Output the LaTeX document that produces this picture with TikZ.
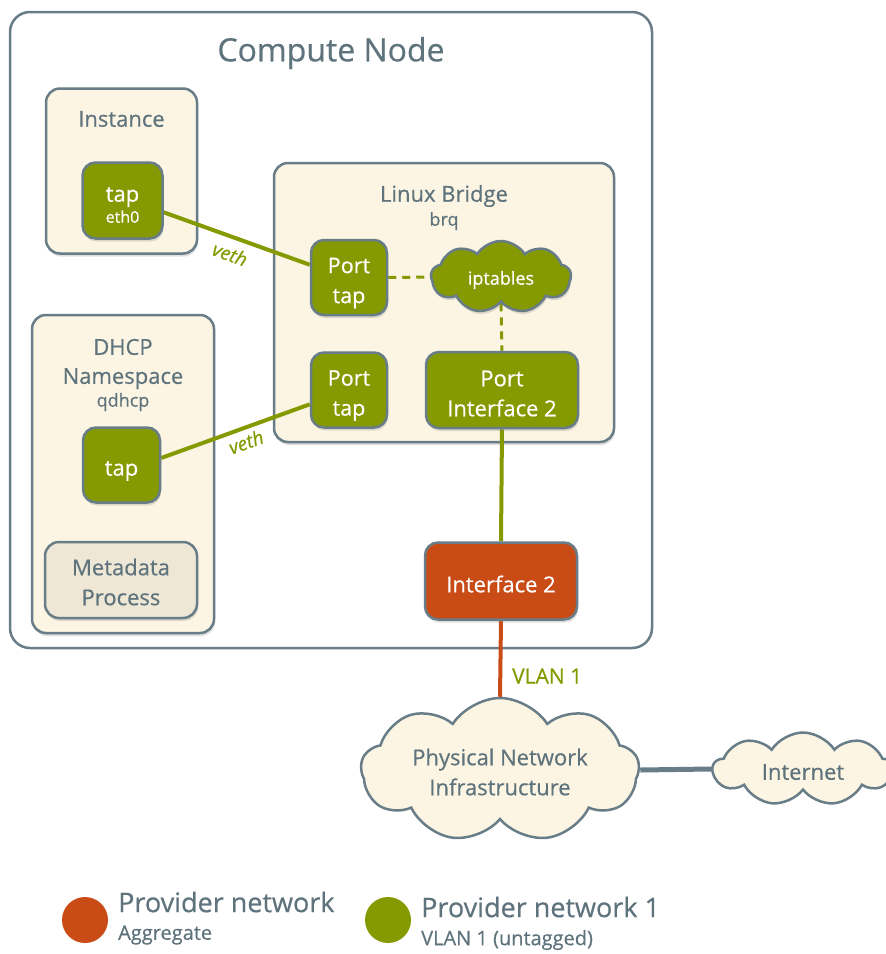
\documentclass[tikz,border=0pt]{standalone}
\usepackage{fontspec}
\setmainfont{Open Sans}[FakeBold=0.5]
\usetikzlibrary{shapes.symbols,shadows}
\definecolor{cgreen}{HTML}{849A00}
\definecolor{corange}{HTML}{C94C17}
\definecolor{cborder}{HTML}{687D87}
\definecolor{ccream}{HTML}{FCF5E3}
\definecolor{cmeta}{HTML}{EEE7D6}
\definecolor{ctext}{HTML}{5F737D}
\newcommand\fsz[2]{\fontsize{#1}{#2}\selectfont}
\pgfdeclarelayer{bg}
\pgfdeclarelayer{edges}
\pgfsetlayers{bg,edges,main}
\begin{document}
\begin{tikzpicture}[x=1pt,y=-1pt,
  shad/.style={drop shadow={opacity=0.25,shadow xshift=1pt,shadow yshift=-3pt}},
  box/.style={draw=cborder,line width=2.5pt,fill=ccream,rounded corners=14pt,inner sep=0pt,shad},
  gbox/.style={draw=cborder,line width=2.5pt,fill=cgreen,rounded corners=13pt,inner sep=0pt,shad},
  lbl/.style={text=ctext,align=center,inner sep=0pt},
  wlbl/.style={text=white,align=center,inner sep=0pt},
  cloudbox/.style={cloud,cloud puffs=9,cloud puff arc=115,cloud ignores aspect,draw=cborder,line width=2.5pt,inner sep=0pt},
  gline/.style={draw=cgreen,line width=4pt},
  dline/.style={draw=cgreen,line width=3pt,dash pattern=on 8pt off 6pt},
  vlbl/.style={text=cgreen,inner sep=0pt,font=\itshape\fsz{19}{21}}
]
\useasboundingbox (0,0) rectangle (886,954);
\begin{pgfonlayer}{bg}
\node[draw=cborder,line width=2.5pt,fill=white,rounded corners=20pt,minimum width=642pt,minimum height=636pt,inner sep=0pt] (compute) at (331,330) {};
\node[box,minimum width=151pt,minimum height=165pt] (inst) at (121.5,171) {};
\node[box,minimum width=340pt,minimum height=279pt] (bridge) at (444,302.5) {};
\node[box,minimum width=182pt,minimum height=318pt] (dhcp) at (123,474) {};
\end{pgfonlayer}

\node[lbl,font=\fsz{32}{36}] (ctitle) at (331,53) {Compute Node};
\node[lbl,font=\fsz{22}{24}] (ititle) at (121.5,119) {Instance};
\node[lbl,font=\fsz{22}{24}] (btitle) at (444,196) {Linux Bridge};
\node[lbl,font=\fsz{18}{20}] (bsub) at (444,221) {brq};
\node[lbl,font=\fsz{22}{29}] (dtitle) at (123,364) {DHCP\\Namespace};
\node[lbl,font=\fsz{18}{20}] (dsub) at (123,402) {qdhcp};

% green boxes
\node[gbox,minimum width=80pt,minimum height=76pt] (tap1) at (122.5,200.5) {};
\node[wlbl,font=\fsz{22}{24}] (tap1t) at (122.5,205) {tap\\[-3pt]{\fsz{16}{18}eth0}};
\node[gbox,minimum width=76pt,minimum height=75pt] (ptap1) at (349,277.5) {};
\node[wlbl,font=\fsz{21.5}{30}] (ptap1t) at (349,283) {Port\\tap};
\node[gbox,minimum width=76pt,minimum height=75pt] (ptap2) at (349,390) {};
\node[wlbl,font=\fsz{21.5}{30}] (ptap2t) at (349,395.5) {Port\\tap};
\node[gbox,minimum width=152pt,minimum height=76pt] (pif) at (502,390) {};
\node[wlbl,font=\fsz{22}{30}] (pift) at (502,393.5) {Port\\Interface 2};
\node[cloudbox,fill=cgreen,minimum width=140pt,minimum height=72pt,shad] (ipt) at (501,277) {};
\node[wlbl,font=\fsz{18}{20}] (iptt) at (501,280) {iptables};
\node[gbox,minimum width=77pt,minimum height=75pt] (dtap) at (121.5,465) {};
\node[wlbl,font=\fsz{22}{24}] (dtapt) at (121.5,471) {tap};
\node[box,fill=cmeta,minimum width=152pt,minimum height=76pt] (meta) at (121,580) {};
\node[lbl,font=\fsz{22}{30}] (metat) at (121,582) {Metadata\\Process};
\node[gbox,fill=corange,minimum width=152pt,minimum height=77pt] (if2) at (501,581) {};
\node[wlbl,font=\fsz{22}{24}] (if2t) at (501,584) {Interface 2};

% clouds outside
\node[cloudbox,fill=ccream,minimum width=278pt,minimum height=144pt] (phys) at (500,770) {};
\node[lbl,font=\fsz{22}{30}] (physt) at (500,772) {Physical Network\\Infrastructure};
\node[cloudbox,fill=ccream,minimum width=180pt,minimum height=73pt] (inet) at (803,769) {};
\node[lbl,font=\fsz{22}{24}] (inett) at (803,772) {Internet};

\node[text=cgreen,inner sep=0pt,anchor=west,font=\fsz{21}{24}] (vlan) at (512,676) {VLAN 1};
\node[vlbl,rotate=-20] (veth1) at (230,254) {veth};
\node[vlbl,rotate=20] (veth2) at (246,442) {veth};

% legend
\node[circle,fill=corange,minimum size=46pt,inner sep=0pt] (leg1) at (85,920) {};
\node[lbl,anchor=west,font=\fsz{27}{30}] (leg1a) at (118,902) {Provider network};
\node[lbl,anchor=west,font=\fsz{20}{22}] (leg1b) at (118,935) {Aggregate};
\node[circle,fill=cgreen,minimum size=46pt,inner sep=0pt] (leg2) at (388,920) {};
\node[lbl,anchor=west,font=\fsz{27}{30}] (leg2a) at (421,907) {Provider network 1};
\node[lbl,anchor=west,font=\fsz{20}{22}] (leg2b) at (421,940) {VLAN 1 (untagged)};

\begin{pgfonlayer}{edges}
\draw[gline] (tap1.-16) -- (ptap1.162);
\draw[gline] (dtap.10) -- (ptap2.-160);
\draw[dline] (ptap1.east) -- (ipt.west);
\draw[dline] (ipt.south) -- (pif.north);
\draw[gline] (pif.south) -- (if2.north);
\draw[draw=corange,line width=4pt] (if2.south) -- (phys.north);
\draw[draw=cborder,line width=5pt] (phys.east) -- (inet.west);
\end{pgfonlayer}
\end{tikzpicture}
\end{document}
